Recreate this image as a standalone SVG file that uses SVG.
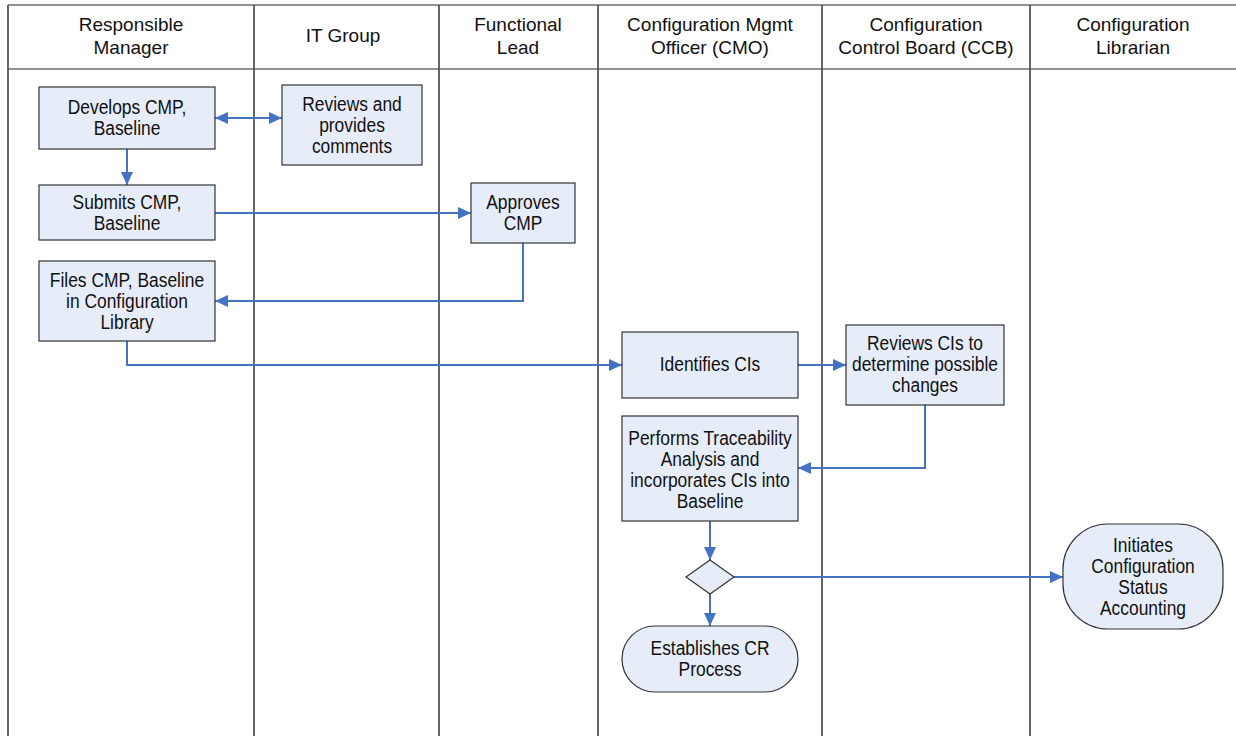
<svg xmlns="http://www.w3.org/2000/svg" width="1236" height="736" viewBox="0 0 1236 736">
<style>
.lane{stroke:#555;stroke-width:1.8;fill:none}
.hl{stroke:#222;stroke-width:1.2;fill:none}
.hd{font-family:"Liberation Sans",Arial,sans-serif;font-size:19px;fill:#111;text-anchor:middle}
.box{fill:#E7EDF8;stroke:#333;stroke-width:1.2}
.t{font-family:"Liberation Sans",Arial,sans-serif;font-size:20px;fill:#111;text-anchor:middle}
.c{stroke:#4472C4;stroke-width:2;fill:none}
</style>
<defs>
<marker id="ah" viewBox="0 0 13 12" refX="13" refY="6" markerWidth="13" markerHeight="12" markerUnits="userSpaceOnUse" orient="auto-start-reverse">
<path d="M0,0 L13,6 L0,12 Z" fill="#4472C4"/>
</marker>
</defs>
<rect width="1236" height="736" fill="#fff"/>
<g id="lanes">
<line class="hl" x1="8" y1="5" x2="1236" y2="5"/>
<line class="hl" x1="8" y1="69" x2="1236" y2="69"/>
<line class="lane" x1="8" y1="5" x2="8" y2="736"/>
<line class="lane" x1="254" y1="5" x2="254" y2="736"/>
<line class="lane" x1="439" y1="5" x2="439" y2="736"/>
<line class="lane" x1="598" y1="5" x2="598" y2="736"/>
<line class="lane" x1="822" y1="5" x2="822" y2="736"/>
<line class="lane" x1="1030" y1="5" x2="1030" y2="736"/>
<text class="hd" x="131" y="31">Responsible</text>
<text class="hd" x="131" y="54">Manager</text>
<text class="hd" x="343" y="42">IT Group</text>
<text class="hd" x="518" y="31">Functional</text>
<text class="hd" x="518" y="54">Lead</text>
<text class="hd" x="710" y="31">Configuration Mgmt</text>
<text class="hd" x="710" y="54">Officer (CMO)</text>
<text class="hd" x="926" y="31">Configuration</text>
<text class="hd" x="926" y="54">Control Board (CCB)</text>
<text class="hd" x="1133" y="31">Configuration</text>
<text class="hd" x="1133" y="54">Librarian</text>
</g>
<g id="connectors">
<line class="c" x1="215" y1="118" x2="282" y2="118" marker-start="url(#ah)" marker-end="url(#ah)"/>
<line class="c" x1="127" y1="149" x2="127" y2="185" marker-end="url(#ah)"/>
<line class="c" x1="215" y1="213" x2="471" y2="213" marker-end="url(#ah)"/>
<polyline class="c" points="523,243 523,301 215,301" marker-end="url(#ah)"/>
<polyline class="c" points="127,341 127,365 622,365" marker-end="url(#ah)"/>
<line class="c" x1="798" y1="365" x2="846" y2="365" marker-end="url(#ah)"/>
<polyline class="c" points="925,405 925,468 798,468" marker-end="url(#ah)"/>
<line class="c" x1="710" y1="521" x2="710" y2="560" marker-end="url(#ah)"/>
<line class="c" x1="710" y1="594" x2="710" y2="626" marker-end="url(#ah)"/>
<line class="c" x1="734" y1="577" x2="1063" y2="577" marker-end="url(#ah)"/>
</g>
<g id="n1"><rect class="box" x="39" y="87" width="176" height="62"/>
<g transform="translate(127 0) scale(0.87 1)"><text class="t" x="0" y="114">Develops CMP,</text><text class="t" x="0" y="135">Baseline</text></g></g>
<g id="n2"><rect class="box" x="282" y="85" width="140" height="80"/>
<g transform="translate(352 0) scale(0.87 1)"><text class="t" x="0" y="111">Reviews and</text><text class="t" x="0" y="132">provides</text><text class="t" x="0" y="153">comments</text></g></g>
<g id="n3"><rect class="box" x="39" y="185" width="176" height="55"/>
<g transform="translate(127 0) scale(0.87 1)"><text class="t" x="0" y="209">Submits CMP,</text><text class="t" x="0" y="230">Baseline</text></g></g>
<g id="n4"><rect class="box" x="471" y="183" width="104" height="60"/>
<g transform="translate(523 0) scale(0.87 1)"><text class="t" x="0" y="209">Approves</text><text class="t" x="0" y="230">CMP</text></g></g>
<g id="n5"><rect class="box" x="39" y="261" width="176" height="80"/>
<g transform="translate(127 0) scale(0.87 1)"><text class="t" x="0" y="287">Files CMP, Baseline</text><text class="t" x="0" y="308">in Configuration</text><text class="t" x="0" y="329">Library</text></g></g>
<g id="n6"><rect class="box" x="622" y="332" width="176" height="66"/>
<g transform="translate(710 0) scale(0.87 1)"><text class="t" x="0" y="371">Identifies CIs</text></g></g>
<g id="n7"><rect class="box" x="846" y="325" width="158" height="80"/>
<g transform="translate(925 0) scale(0.87 1)"><text class="t" x="0" y="350">Reviews CIs to</text><text class="t" x="0" y="371">determine possible</text><text class="t" x="0" y="392">changes</text></g></g>
<g id="n8"><rect class="box" x="622" y="416" width="176" height="105"/>
<g transform="translate(710 0) scale(0.87 1)"><text class="t" x="0" y="445">Performs Traceability</text><text class="t" x="0" y="466">Analysis and</text><text class="t" x="0" y="487">incorporates CIs into</text><text class="t" x="0" y="508">Baseline</text></g></g>
<g id="n9"><polygon class="box" points="710,560 734,577 710,594 686,577"/></g>
<g id="n10"><rect class="box" x="622" y="626" width="176" height="66" rx="33" ry="33"/>
<g transform="translate(710 0) scale(0.87 1)"><text class="t" x="0" y="655">Establishes CR</text><text class="t" x="0" y="676">Process</text></g></g>
<g id="n11"><rect class="box" x="1063" y="524" width="160" height="105" rx="45" ry="45"/>
<g transform="translate(1143 0) scale(0.87 1)"><text class="t" x="0" y="552">Initiates</text><text class="t" x="0" y="573">Configuration</text><text class="t" x="0" y="594">Status</text><text class="t" x="0" y="615">Accounting</text></g></g>
</svg>
